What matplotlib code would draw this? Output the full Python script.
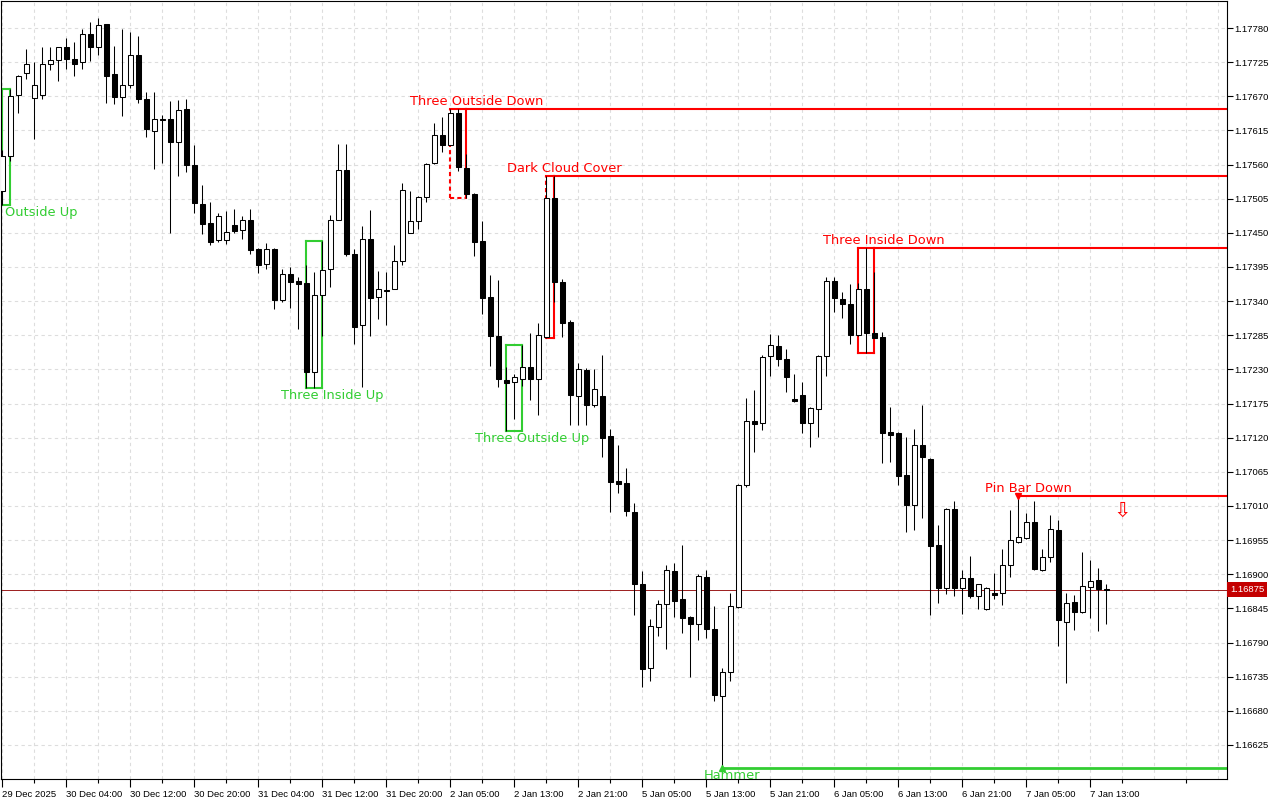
#
# Velas horarias EURUSD con patrones marcados (estilo MT4)
#
import numpy as np
import matplotlib.pyplot as plt

opens = [1.17517, 1.17574, 1.17672, 1.17707, 1.17667, 1.17672, 1.17722, 1.17728, 1.17749, 1.17730,
         1.17725, 1.17770, 1.17749, 1.17786, 1.17706, 1.17669, 1.17688, 1.17737, 1.17666, 1.17614,
         1.17633, 1.17633, 1.17596, 1.17650, 1.17559, 1.17497, 1.17466, 1.17438, 1.17438, 1.17463,
         1.17455, 1.17471, 1.17424, 1.17400, 1.17424, 1.17342, 1.17384, 1.17372, 1.17369, 1.17226,
         1.17350, 1.17392, 1.17471, 1.17551, 1.17416, 1.17302, 1.17440, 1.17347, 1.17358, 1.17360,
         1.17405, 1.17450, 1.17469, 1.17508, 1.17562, 1.17608, 1.17592, 1.17643, 1.17555, 1.17513,
         1.17437, 1.17347, 1.17284, 1.17213, 1.17210, 1.17214, 1.17234, 1.17214, 1.17282, 1.17506,
         1.17371, 1.17306, 1.17187, 1.17229, 1.17173, 1.17187, 1.17123, 1.17050, 1.17047, 1.17000,
         1.16884, 1.16749, 1.16815, 1.16852, 1.16905, 1.16860, 1.16831, 1.16820, 1.16896, 1.16812,
         1.16704, 1.16742, 1.16847, 1.17044, 1.17147, 1.17144, 1.17252, 1.17268, 1.17247, 1.17182,
         1.17189, 1.17144, 1.17166, 1.17252, 1.17372, 1.17343, 1.17335, 1.17285, 1.17360, 1.17289,
         1.17282, 1.17129, 1.17128, 1.17060, 1.17012, 1.17108, 1.17086, 1.16947, 1.16878, 1.17005,
         1.16878, 1.16894, 1.16865, 1.16844, 1.16870, 1.16870, 1.16915, 1.16952, 1.16958, 1.16984,
         1.16907, 1.16928, 1.16971, 1.16823, 1.16855, 1.16839, 1.16880, 1.16891, 1.16876]
highs = [1.17583, 1.17682, 1.17705, 1.17746, 1.17725, 1.17749, 1.17749, 1.17750, 1.17764, 1.17757,
         1.17778, 1.17790, 1.17796, 1.17787, 1.17751, 1.17778, 1.17774, 1.17767, 1.17677, 1.17677,
         1.17640, 1.17662, 1.17664, 1.17666, 1.17592, 1.17527, 1.17500, 1.17482, 1.17485, 1.17488,
         1.17477, 1.17488, 1.17425, 1.17434, 1.17426, 1.17392, 1.17395, 1.17379, 1.17398, 1.17387,
         1.17437, 1.17479, 1.17593, 1.17593, 1.17424, 1.17461, 1.17487, 1.17389, 1.17387, 1.17430,
         1.17530, 1.17517, 1.17509, 1.17562, 1.17627, 1.17637, 1.17650, 1.17650, 1.17577, 1.17514,
         1.17469, 1.17382, 1.17374, 1.17234, 1.17223, 1.17269, 1.17289, 1.17305, 1.17542, 1.17542,
         1.17376, 1.17310, 1.17240, 1.17232, 1.17231, 1.17253, 1.17134, 1.17108, 1.17071, 1.17015,
         1.16905, 1.16828, 1.16858, 1.16915, 1.16918, 1.16947, 1.16832, 1.16900, 1.16907, 1.16849,
         1.16749, 1.16870, 1.17045, 1.17184, 1.17197, 1.17253, 1.17287, 1.17285, 1.17263, 1.17223,
         1.17210, 1.17169, 1.17253, 1.17379, 1.17379, 1.17355, 1.17368, 1.17369, 1.17426, 1.17387,
         1.17290, 1.17169, 1.17129, 1.17121, 1.17134, 1.17173, 1.17087, 1.16979, 1.17006, 1.17018,
         1.16907, 1.16929, 1.16885, 1.16879, 1.16902, 1.16941, 1.17003, 1.17026, 1.16999, 1.17018,
         1.16941, 1.16995, 1.16987, 1.16870, 1.16867, 1.16936, 1.16923, 1.16910, 1.16884]
lows = [1.17495, 1.17566, 1.17643, 1.17698, 1.17601, 1.17666, 1.17712, 1.17695, 1.17714, 1.17703,
        1.17714, 1.17727, 1.17737, 1.17659, 1.17658, 1.17638, 1.17683, 1.17659, 1.17604, 1.17553,
        1.17562, 1.17450, 1.17542, 1.17548, 1.17482, 1.17448, 1.17430, 1.17436, 1.17432, 1.17450,
        1.17440, 1.17416, 1.17385, 1.17392, 1.17327, 1.17339, 1.17329, 1.17295, 1.17200, 1.17200,
        1.17284, 1.17363, 1.17470, 1.17413, 1.17271, 1.17202, 1.17284, 1.17311, 1.17302, 1.17359,
        1.17398, 1.17449, 1.17456, 1.17500, 1.17561, 1.17580, 1.17591, 1.17550, 1.17506, 1.17413,
        1.17319, 1.17235, 1.17202, 1.17131, 1.17150, 1.17203, 1.17181, 1.17156, 1.17281, 1.17339,
        1.17282, 1.17140, 1.17140, 1.17140, 1.17169, 1.17089, 1.17000, 1.17031, 1.16994, 1.16834,
        1.16718, 1.16728, 1.16800, 1.16780, 1.16831, 1.16805, 1.16734, 1.16794, 1.16797, 1.16696,
        1.16588, 1.16728, 1.16846, 1.17041, 1.17097, 1.17132, 1.17219, 1.17235, 1.17194, 1.17178,
        1.17128, 1.17105, 1.17121, 1.17219, 1.17323, 1.17313, 1.17271, 1.17284, 1.17256, 1.17280,
        1.17079, 1.17081, 1.17044, 1.16968, 1.16971, 1.16991, 1.16834, 1.16854, 1.16868, 1.16865,
        1.16836, 1.16862, 1.16844, 1.16843, 1.16860, 1.16850, 1.16896, 1.16950, 1.16957, 1.16907,
        1.16905, 1.16920, 1.16784, 1.16725, 1.16810, 1.16838, 1.16829, 1.16809, 1.16820]
closes = [1.17574, 1.17670, 1.17703, 1.17722, 1.17688, 1.17722, 1.17728, 1.17749, 1.17730, 1.17722,
          1.17770, 1.17749, 1.17785, 1.17703, 1.17669, 1.17688, 1.17737, 1.17666, 1.17617, 1.17633,
          1.17632, 1.17596, 1.17648, 1.17559, 1.17498, 1.17464, 1.17435, 1.17477, 1.17451, 1.17453,
          1.17471, 1.17422, 1.17398, 1.17424, 1.17342, 1.17384, 1.17371, 1.17368, 1.17226, 1.17350,
          1.17390, 1.17471, 1.17551, 1.17416, 1.17298, 1.17440, 1.17345, 1.17360, 1.17357, 1.17405,
          1.17519, 1.17469, 1.17508, 1.17561, 1.17608, 1.17592, 1.17643, 1.17556, 1.17513, 1.17435,
          1.17345, 1.17284, 1.17214, 1.17208, 1.17218, 1.17234, 1.17214, 1.17285, 1.17506, 1.17371,
          1.17305, 1.17189, 1.17231, 1.17173, 1.17198, 1.17120, 1.17049, 1.17045, 1.17002, 1.16884,
          1.16747, 1.16817, 1.16852, 1.16907, 1.16857, 1.16829, 1.16820, 1.16897, 1.16812, 1.16705,
          1.16742, 1.16849, 1.17044, 1.17147, 1.17142, 1.17250, 1.17269, 1.17247, 1.17218, 1.17179,
          1.17144, 1.17168, 1.17252, 1.17372, 1.17345, 1.17335, 1.17285, 1.17360, 1.17289, 1.17281,
          1.17128, 1.17124, 1.17058, 1.17012, 1.17108, 1.17089, 1.16946, 1.16878, 1.17005, 1.16878,
          1.16894, 1.16865, 1.16884, 1.16878, 1.16867, 1.16915, 1.16955, 1.16960, 1.16984, 1.16908,
          1.16928, 1.16973, 1.16826, 1.16854, 1.16839, 1.16881, 1.16889, 1.16876, 1.16875]

x_labels = ["29 Dec 2025", "30 Dec 04:00", "30 Dec 12:00", "30 Dec 20:00", "31 Dec 04:00",
            "31 Dec 12:00", "31 Dec 20:00", "2 Jan 05:00", "2 Jan 13:00", "2 Jan 21:00",
            "5 Jan 05:00", "5 Jan 13:00", "5 Jan 21:00", "6 Jan 05:00", "6 Jan 13:00",
            "6 Jan 21:00", "7 Jan 05:00", "7 Jan 13:00"]

last_price = 1.16875

# patrones de varias velas: nombre, primera vela, ultima vela, tipo
box_patterns = [
    ("Outside Up", 0, 1, "bull"),
    ("Three Inside Up", 38, 40, "bull"),
    ("Three Outside Down", 56, 58, "bear"),
    ("Three Outside Up", 63, 65, "bull"),
    ("Dark Cloud Cover", 68, 69, "bear"),
    ("Three Inside Down", 107, 109, "bear"),
]
# patrones de una vela
bar_patterns = [("Hammer", 90, "bull"), ("Pin Bar Down", 127, "bear")]
dashed_edges = {"Three Outside Down": ("left", "bottom"), "Dark Cloud Cover": ("left",)}

signal_bar = 140
signal_price = 1.17002

GREEN = "#32cd32"
RED = "#ff0000"

plt.rcParams["font.family"] = ["DejaVu Sans"]

fig = plt.figure(figsize=(12.8, 8), dpi=100)
ax = fig.add_axes([1 / 1280, 21 / 800, 1226 / 1280, 778 / 800])

x_min, x_max = -0.16, 153.1
ax.set_xlim(x_min, x_max)
ax.set_ylim(1.165701, 1.178235)

#
# Velas
#
o = np.array(opens)
h = np.array(highs)
l = np.array(lows)
c = np.array(closes)
x = np.arange(len(o))
up = c >= o
body_bottom = np.minimum(o, c)
body_height = np.maximum(np.abs(c - o), 1e-6)

ax.vlines(x, l, h, color="black", lw=0.75, zorder=3)
ax.bar(x[up], body_height[up], bottom=body_bottom[up], width=0.6,
       facecolor="white", edgecolor="black", lw=0.75, zorder=4)
ax.bar(x[~up], body_height[~up], bottom=body_bottom[~up], width=0.6,
       facecolor="black", edgecolor="black", lw=0.75, zorder=4)

#
# Cajas de patrones
#
for name, a, b, kind in box_patterns:
    top = max(highs[a:b + 1])
    bot = min(lows[a:b + 1])
    col = GREEN if kind == "bull" else RED
    dashed = dashed_edges.get(name, ())
    edges = {
        "top": ([a, b], [top, top]),
        "bottom": ([a, b], [bot, bot]),
        "left": ([a, a], [bot, top]),
        "right": ([b, b], [bot, top]),
    }
    for edge, (ex, ey) in edges.items():
        ls = (0, (2, 1.5)) if edge in dashed else "-"
        ax.plot(ex, ey, color=col, lw=1.5, ls=ls, zorder=2, solid_capstyle="projecting")
    if kind == "bear":
        ax.plot([b, x_max], [top, top], color=col, lw=1.5, zorder=2)
        ax.annotate(name, (b + 1.25, top), xytext=(0, 0.5), textcoords="offset points",
                    ha="center", va="bottom", color=col, fontsize=9.4)
    elif a == 0:
        ax.annotate(name, (0.3, bot), xytext=(0, -1), textcoords="offset points",
                    ha="left", va="top", color=col, fontsize=9.4)
    else:
        ax.annotate(name, (b + 1.25, bot), xytext=(0, -1), textcoords="offset points",
                    ha="center", va="top", color=col, fontsize=9.4)

for name, i, kind in bar_patterns:
    if kind == "bull":
        ax.plot([i, x_max], [lows[i], lows[i]], color=GREEN, lw=2, zorder=2)
        ax.plot(i, lows[i], marker="^", color=GREEN, ms=5, zorder=5)
        ax.annotate(name, (i + 1.25, lows[i]), xytext=(0, -1), textcoords="offset points",
                    ha="center", va="top", color=GREEN, fontsize=9.4, annotation_clip=True,
                    clip_on=True)
    else:
        ax.plot([i, x_max], [highs[i], highs[i]], color=RED, lw=1.5, zorder=2)
        ax.plot(i, highs[i], marker="v", color=RED, ms=4, zorder=5)
        ax.annotate(name, (i + 1.25, highs[i]), xytext=(0, 0.5), textcoords="offset points",
                    ha="center", va="bottom", color=RED, fontsize=9.4)

ax.text(signal_bar, signal_price, "\u21e9", color=RED, fontsize=15,
        ha="center", va="center", zorder=5)

#
# Precio actual
#
ax.axhline(last_price, color="#9b1c1c", lw=0.7, zorder=2.5)
ax.annotate(f"{last_price:.5f}", (1, last_price), xycoords=("axes fraction", "data"),
            xytext=(2.2, 0), textcoords="offset points", ha="left", va="center",
            color="white", fontsize=6.8, family="Liberation Sans", annotation_clip=False,
            bbox=dict(boxstyle="square,pad=0.3", fc="#c40000", ec="none"))

#
# Ejes y rejilla
#
yt = np.round(np.arange(1.16625, 1.17781, 0.00055), 5)
ax.yaxis.tick_right()
ax.set_yticks(yt)
ax.set_yticklabels([f"{v:.5f}" for v in yt], fontsize=6.8, family="Liberation Sans")
ax.tick_params(axis="y", length=4, width=0.8, pad=1.5, direction="out")

ax.set_xticks(np.arange(0, 8 * len(x_labels), 8))
ax.set_xticklabels(x_labels, ha="left", fontsize=6.8, family="Liberation Sans")
ax.set_xticks(np.arange(4, 153, 8), minor=True)
ax.tick_params(axis="x", which="major", length=6, width=0.8, pad=2)
ax.tick_params(axis="x", which="minor", length=3, width=0.8)

for gx in range(0, 154, 4):
    ax.axvline(gx, color="#dddddd", lw=0.8, ls=(0, (3, 3)), zorder=0)
for gy in yt:
    ax.axhline(gy, color="#dddddd", lw=0.8, ls=(0, (3, 3)), zorder=0)

for s in ax.spines.values():
    s.set_color("black")
    s.set_linewidth(0.8)

fig.savefig("out.png", dpi=100)
